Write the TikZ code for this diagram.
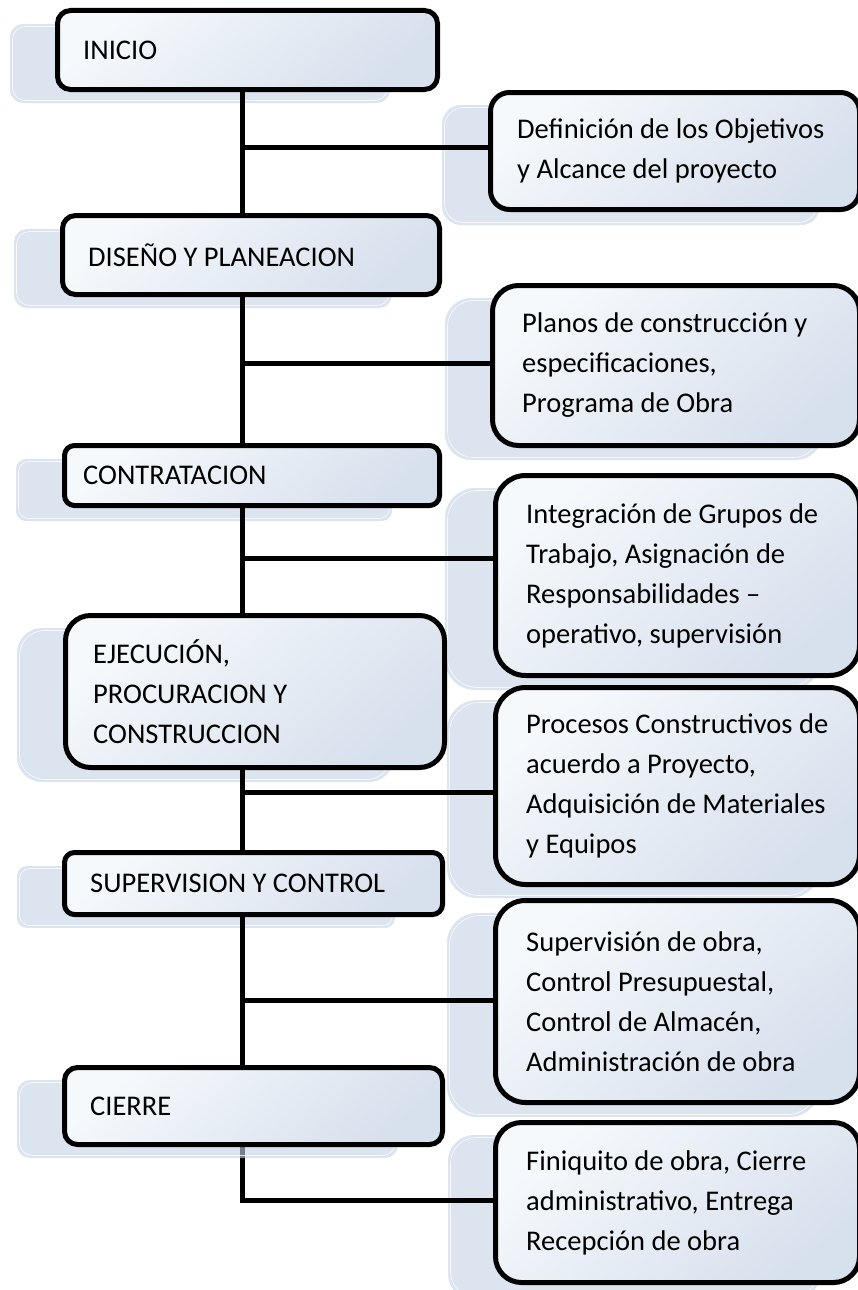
\documentclass[tikz,border=0pt]{standalone}
\usepackage{fontspec}
\setmainfont{Carlito}
\usetikzlibrary{calc}
\pgfdeclarelayer{shadowlayer}
\pgfdeclarelayer{connlayer}
\pgfdeclarelayer{overlayer}
\pgfsetlayers{shadowlayer,connlayer,overlayer,main}
\definecolor{shadowc}{HTML}{DCE4EF}
\definecolor{shadowdeep}{HTML}{C5D2E4}
\definecolor{boxlight}{HTML}{F6F9FC}
\definecolor{boxdark}{HTML}{D7E0ED}
\tikzset{
  conn/.style={draw=black, line width=5pt},
  stage/.style={draw=black, line width=5pt, top color=boxlight, bottom color=boxdark, shading angle=40,
    anchor=north west, inner sep=0pt},
  stagetext/.style={anchor=west, align=left, inner sep=0pt, font=\fontsize{28.5}{40}\selectfont},
  shadowbox/.style={fill=shadowc, draw=none},
  shadowedge/.style={draw=white, line width=0.7pt, opacity=0.8}
}
\newcommand{\stagebox}[8]{% name, x, y, w, h, inset, radius, text
  \node[stage, minimum width=#4pt, minimum height=#5pt, rounded corners=#7pt] (#1) at (#2,#3) {};
  \node[stagetext] (#1-t) at ($(#1.west)+(#6,0)$) {#8};}
\newcommand{\shad}[5]{% x1 y1 x2 y2 radius
  \path[shadowbox, rounded corners=#5pt] (#1,#2) rectangle (#3,#4);
  \path[shadowedge, rounded corners=#5pt] (#1+2.5,#2+2.5) rectangle (#3-2.5,#4-2.5);}
\begin{document}
\begin{tikzpicture}[x=1pt, y=-1pt]
\useasboundingbox (0,0) rectangle (858,1290);
% shadows
\begin{pgfonlayer}{shadowlayer}
\shad{10}{24}{390}{103}{13}
\shad{442}{105}{820}{225}{19}
\shad{14}{229}{392}{308}{13}
\shad{445}{298}{822}{460}{26}
\shad{16}{459}{392}{521}{10}
\shad{445}{488}{820}{690}{30}
\shad{17}{628}{394}{782}{25}
\shad{447}{700}{820}{898}{30}
\shad{17}{866}{395}{928}{10}
\shad{447}{913}{820}{1117}{30}
\shad{448}{1135}{820}{1300}{26}
\end{pgfonlayer}
% the last left shadow lies over the spine
\begin{pgfonlayer}{overlayer}
\path[fill=shadowdeep, fill opacity=0.6, rounded corners=13pt] (17,1080) rectangle (398,1158);
\path[shadowedge, rounded corners=13pt] (19.5,1082.5) rectangle (395.5,1155.5);
\end{pgfonlayer}
% spine coordinates
\coordinate (sp) at (242,0);
\coordinate (b1) at (242,147);
\coordinate (b2) at (242,363);
\coordinate (b3) at (242,558);
\coordinate (b4) at (242,792);
\coordinate (b5) at (242,1000);
\coordinate (b6) at (242,1200);
% boxes
\stagebox{inicio}{55}{8}{380}{79}{28}{13}{INICIO}
\stagebox{def}{488}{90}{369}{117}{29}{19}{Definición de los Objetivos\\y Alcance del proyecto}
\stagebox{diseno}{60}{213}{377}{79}{28}{13}{DISEÑO Y PLANEACION}
\stagebox{planos}{490}{283}{367}{160}{32}{26}{Planos de construcción y\\especificaciones,\\Programa de Obra}
\stagebox{contrat}{62}{443}{375}{60}{21}{10}{CONTRATACION}
\stagebox{integ}{493}{473}{364}{200}{33}{30}{Integración de Grupos de\\Trabajo, Asignación de\\Responsabilidades –\\operativo, supervisión}
\stagebox{ejec}{63}{613}{379}{152}{30}{25}{EJECUCIÓN,\\PROCURACION Y\\CONSTRUCCION}
\stagebox{proc}{493}{685}{364}{197}{33}{30}{Procesos Constructivos de\\acuerdo a Proyecto,\\Adquisición de Materiales\\y Equipos}
\stagebox{superv}{62}{850}{378}{62}{28}{10}{SUPERVISION Y CONTROL}
\stagebox{supr}{493}{898}{364}{202}{33}{30}{Supervisión de obra,\\Control Presupuestal,\\Control de Almacén,\\Administración de obra}
\stagebox{cierre}{62}{1065}{378}{77}{28}{13}{CIERRE}
\stagebox{fin}{493}{1120}{364}{160}{33}{26}{Finiquito de obra, Cierre\\administrativo, Entrega\\Recepción de obra}
% connectors
\begin{pgfonlayer}{connlayer}
\draw[conn] (inicio.south -| sp) -- (diseno.north -| sp);
\draw[conn] (diseno.south -| sp) -- (contrat.north -| sp);
\draw[conn] (contrat.south -| sp) -- (ejec.north -| sp);
\draw[conn] (ejec.south -| sp) -- (superv.north -| sp);
\draw[conn] (superv.south -| sp) -- (cierre.north -| sp);
\draw[conn] (cierre.south -| sp) |- (b6 -| fin.west);
\draw[conn] (b1) -- (b1 -| def.west);
\draw[conn] (b2) -- (b2 -| planos.west);
\draw[conn] (b3) -- (b3 -| integ.west);
\draw[conn] (b4) -- (b4 -| proc.west);
\draw[conn] (b5) -- (b5 -| supr.west);
\end{pgfonlayer}
\end{tikzpicture}
\end{document}
